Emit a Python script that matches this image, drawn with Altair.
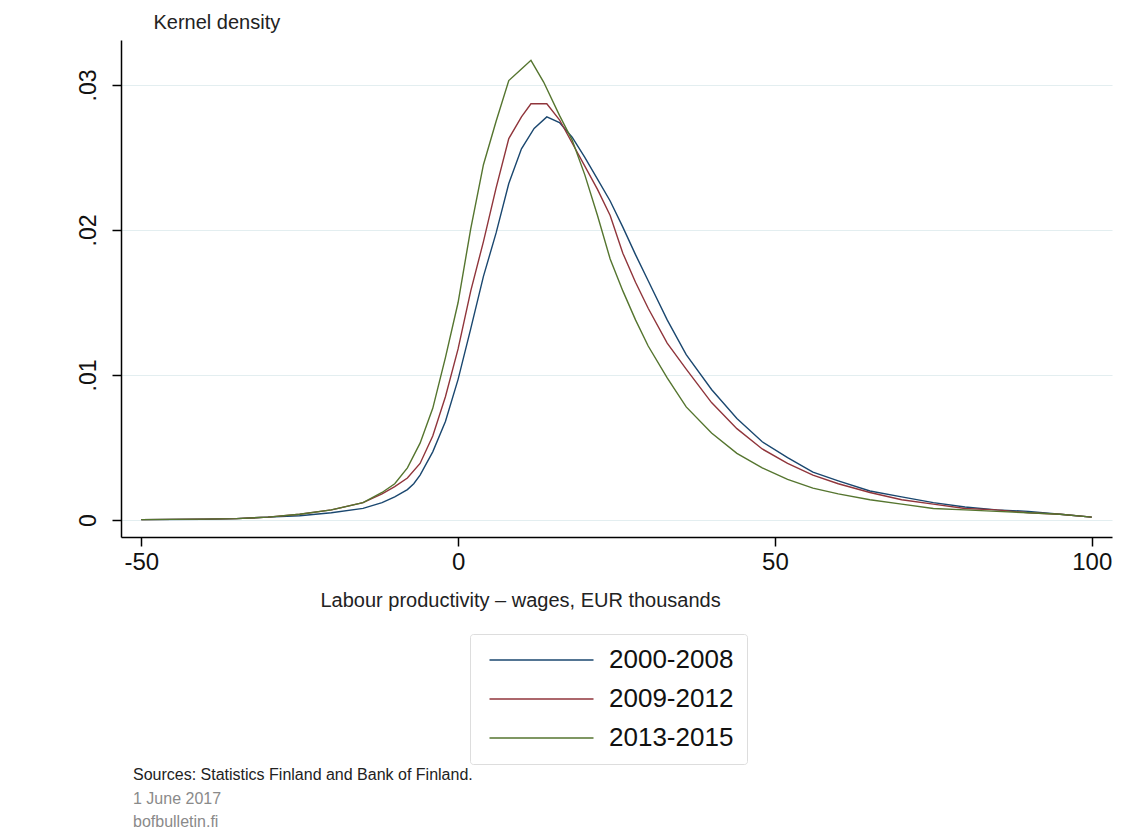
import altair as alt
import pandas as pd

FONT = "Liberation Sans"

series_names = ["2000-2008", "2009-2012", "2013-2015"]
series_colors = ["#1a476f", "#90353b", "#55752f"]

# Kernel density estimates (x in EUR thousands)
x_blue = [-50, -40, -35, -30, -25, -20, -15, -12, -10, -8, -7, -6, -4, -2, 0, 2, 4, 6, 8, 10, 12, 14, 16, 18, 20,
          22, 24, 26, 28, 30, 33, 36, 40, 44, 48, 52, 56, 60, 65, 70, 75, 80, 85, 90, 95, 100]
y_blue = [0.00003, 0.00005, 0.0001, 0.0002, 0.0003, 0.0005, 0.0008, 0.0012, 0.0016, 0.0021, 0.0025, 0.0031,
          0.0047, 0.0068, 0.0097, 0.0132, 0.0168, 0.0198, 0.0232, 0.0256, 0.0270, 0.0278, 0.0274, 0.0264,
          0.0250, 0.0235, 0.0220, 0.0202, 0.0183, 0.0165, 0.0138, 0.0114, 0.0090, 0.0070, 0.0054, 0.0043,
          0.0033, 0.0027, 0.0020, 0.0016, 0.0012, 0.0009, 0.0007, 0.0006, 0.0004, 0.0002]

x_red = [-50, -40, -35, -30, -25, -20, -15, -12, -10, -8, -6, -4, -2, 0, 2, 4, 6, 8, 10, 11.5, 14, 16, 18, 20,
         22, 24, 26, 28, 30, 33, 36, 40, 44, 48, 52, 56, 60, 65, 70, 75, 80, 85, 90, 95, 100]
y_red = [0.00003, 0.00006, 0.0001, 0.0002, 0.0004, 0.0007, 0.0012, 0.0018, 0.0023, 0.0029, 0.0039, 0.0058,
         0.0085, 0.0118, 0.0158, 0.0192, 0.0229, 0.0263, 0.0278, 0.0287, 0.0287, 0.0276, 0.0260, 0.0244,
         0.0228, 0.0210, 0.0184, 0.0164, 0.0146, 0.0122, 0.0104, 0.0081, 0.0063, 0.0049, 0.0039, 0.0031,
         0.0025, 0.0019, 0.0014, 0.0011, 0.0008, 0.0007, 0.0005, 0.0004, 0.0002]

x_green = [-50, -40, -35, -30, -25, -20, -15, -12, -10, -8, -6, -4, -2, 0, 2, 4, 6, 8, 10, 11.5, 13.5, 16, 18,
           20, 22, 24, 26, 28, 30, 33, 36, 40, 44, 48, 52, 56, 60, 65, 70, 75, 80, 85, 90, 95, 100]
y_green = [0.00003, 0.00006, 0.0001, 0.0002, 0.0004, 0.0007, 0.0012, 0.0019, 0.0025, 0.0036, 0.0053, 0.0077,
           0.0112, 0.0150, 0.0201, 0.0245, 0.0275, 0.0303, 0.0311, 0.0317, 0.0302, 0.0279, 0.0262, 0.0238,
           0.0210, 0.0180, 0.0158, 0.0138, 0.0120, 0.0098, 0.0078, 0.0060, 0.0046, 0.0036, 0.0028, 0.0022,
           0.0018, 0.0014, 0.0011, 0.0008, 0.0007, 0.0006, 0.0005, 0.0004, 0.0002]

x_ticks = [-50, 0, 50, 100]
y_ticks = [0, 0.01, 0.02, 0.03]

source_note = "Sources: Statistics Finland and Bank of Finland."
date_note = "1 June 2017"
site_note = "bofbulletin.fi"

frames = []
for name, xs, ys in [(series_names[0], x_blue, y_blue),
                     (series_names[1], x_red, y_red),
                     (series_names[2], x_green, y_green)]:
    frames.append(pd.DataFrame({"x": xs, "density": ys, "period": name}))
df = pd.concat(frames, ignore_index=True)

W, H = 991, 497

lines = alt.Chart(df).mark_line(strokeWidth=1.4, clip=True).encode(
    x=alt.X("x:Q",
            scale=alt.Scale(domain=[-53.2, 103.2], nice=False, zero=False),
            axis=alt.Axis(values=x_ticks, title="Labour productivity – wages, EUR thousands",
                          labelExpr="toString(datum.value)",
                          grid=False, domainColor="#000000", domainWidth=1.5,
                          tickColor="#000000", tickWidth=1.5, tickSize=9,
                          labelFont=FONT, labelFontSize=24, labelColor="#111111", labelPadding=4,
                          titleFont=FONT, titleFontSize=20, titleFontWeight="normal", titleColor="#222222",
                          titleAnchor="start", titleX=199, titleY=63, titleBaseline="middle")),
    y=alt.Y("density:Q",
            scale=alt.Scale(domain=[-0.00117, 0.0331], nice=False, zero=False),
            axis=alt.Axis(values=y_ticks, title="Kernel density",
                          labelExpr="datum.value == 0 ? '0' : '.' + substring(format(datum.value, '.2f'), 2)",
                          grid=True, gridColor="#e3eef0", gridWidth=1.2,
                          domainColor="#000000", domainWidth=1.5,
                          tickColor="#000000", tickWidth=1.5, tickSize=9,
                          labelFont=FONT, labelFontSize=23, labelColor="#111111",
                          labelAngle=-90, labelAlign="center", labelBaseline="bottom", labelPadding=12,
                          titleFont=FONT, titleFontSize=20, titleFontWeight="normal", titleColor="#222222",
                          titleAngle=0, titleAlign="left", titleBaseline="middle",
                          titleX=32, titleY=-18)),
    color=alt.Color("period:N",
                    scale=alt.Scale(domain=series_names, range=series_colors),
                    legend=alt.Legend(title=None, orient="none", legendX=349, legendY=594,
                                      symbolType="M-1,0H15", symbolSize=169, symbolStrokeWidth=1.5,
                                      labelFont=FONT, labelFontSize=26, labelColor="#111111",
                                      labelOffset=100, rowPadding=13, padding=13,
                                      fillColor="#ffffff", strokeColor="#dddddd", cornerRadius=3)),
)

notes = []
for txt, ypos, col in [(source_note, 735, "#222222"), (date_note, 759, "#8a8a8a"), (site_note, 782, "#8a8a8a")]:
    notes.append(
        alt.Chart(pd.DataFrame({"t": [txt]})).mark_text(
            align="left", baseline="middle", font=FONT, fontSize=16, color=col
        ).encode(x=alt.value(12), y=alt.value(ypos), text="t:N")
    )

chart = alt.layer(lines, *notes).properties(
    width=W, height=H,
    background="#ffffff",
    autosize=alt.AutoSizeParams(type="none"),
    padding={"left": 113, "top": 32, "right": 10, "bottom": 296},
).configure_view(stroke="transparent", strokeWidth=0)

chart.save("out.html", embed_options={"renderer": "svg", "actions": False})
